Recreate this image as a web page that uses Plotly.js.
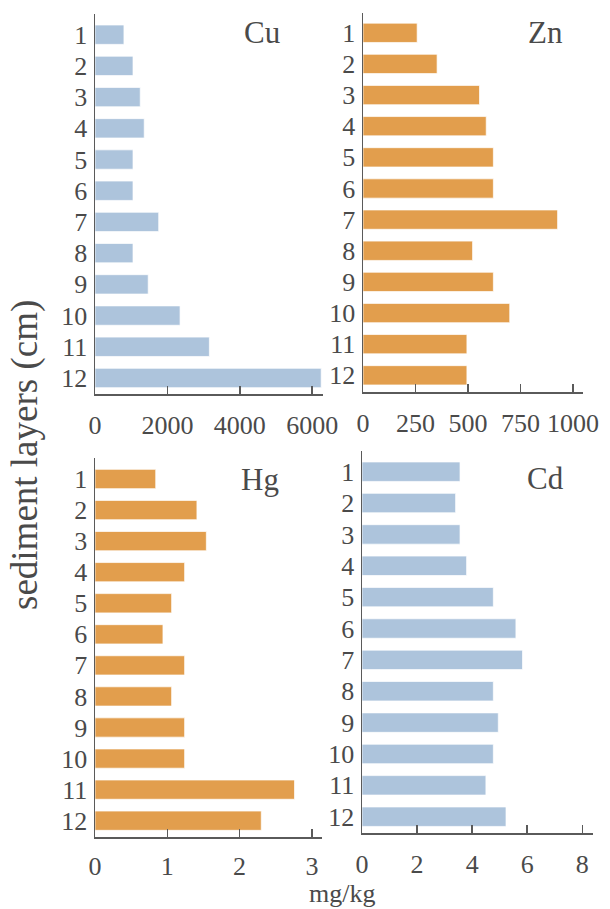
<!DOCTYPE html>
<html>
<head>
<meta charset="utf-8">
<script src="https://cdn.plot.ly/plotly-3.0.1.min.js"></script>
<style>html,body{margin:0;padding:0;background:#fff;}#chart{width:610px;height:909px;}</style>
</head>
<body>
<div id="chart"></div>
<script>
// ---- data ----
var layers = ['1','2','3','4','5','6','7','8','9','10','11','12'];
var cuValues = [800, 1050, 1250, 1360, 1050, 1050, 1760, 1050, 1470, 2350, 3160, 6250];
var znValues = [258, 353, 555, 587, 621, 621, 927, 522, 621, 699, 495, 495];
var hgValues = [0.84, 1.41, 1.54, 1.24, 1.06, 0.94, 1.24, 1.06, 1.24, 1.24, 2.76, 2.30];
var cdValues = [3.56, 3.40, 3.56, 3.80, 4.77, 5.59, 5.83, 4.77, 4.95, 4.77, 4.50, 5.23];
var panelNames = ['Cu', 'Zn', 'Hg', 'Cd'];
var cuTicks = [0, 2000, 4000, 6000];
var znTicks = [0, 250, 500, 750, 1000];
var hgTicks = [0, 1, 2, 3];
var cdTicks = [0, 2, 4, 6, 8];
var yTitle = 'sediment layers (cm)';
var xTitle = 'mg/kg';

var BLUE = '#adc4dc', ORANGE = '#e29e4d';
var FONT = "'Liberation Serif', 'Times New Roman', serif";
var TXT = '#4a4a4a', LINE = '#5a5a5a';
var W = 610, H = 909;

function px(x){ return x / W; }
function py(y){ return 1 - y / H; }

function bar(vals, color, xa, ya){
  return {
    type: 'bar', orientation: 'h', x: vals, y: layers,
    xaxis: xa, yaxis: ya, width: 0.62,
    marker: {color: color, line: {color: 'rgba(255,255,255,0.7)', width: 1}},
    hoverinfo: 'x+y', showlegend: false
  };
}

var data = [
  bar(cuValues, BLUE, 'x', 'y'),
  bar(znValues, ORANGE, 'x2', 'y2'),
  bar(hgValues, ORANGE, 'x3', 'y3'),
  bar(cdValues, BLUE, 'x4', 'y4')
];

function xaxis(dom, range, ticks, anchor, standoff){
  return {
    domain: dom, range: range, anchor: anchor,
    tickmode: 'array', tickvals: ticks, ticktext: ticks.map(String),
    ticks: 'inside', ticklen: 8, tickwidth: 1.5, tickcolor: LINE,
    showline: true, linecolor: LINE, linewidth: 1.5,
    showgrid: false, zeroline: false, ticklabelstandoff: standoff,
    tickfont: {family: FONT, size: 26, color: TXT}, fixedrange: true
  };
}
function yaxis(dom, range, anchor){
  return {
    domain: dom, range: range, anchor: anchor, type: 'category',
    categoryorder: 'array', categoryarray: layers,
    ticks: '', showline: true, linecolor: LINE, linewidth: 1.5,
    showgrid: false, zeroline: false, ticklabelstandoff: 1,
    tickfont: {family: FONT, size: 26, color: TXT}, fixedrange: true
  };
}

function label(text, x, y){
  return {text: text, xref: 'paper', yref: 'paper', x: px(x), y: py(y),
    xanchor: 'center', yanchor: 'middle', showarrow: false,
    font: {family: FONT, size: 31, color: TXT}};
}

var layout = {
  width: W, height: H,
  margin: {l: 0, r: 0, t: 0, b: 0},
  paper_bgcolor: '#ffffff', plot_bgcolor: 'rgba(0,0,0,0)',
  bargap: 0.38,
  xaxis:  xaxis([px(95),  px(323)], [0, 6300], cuTicks, 'y', 7),
  yaxis:  yaxis([py(394), py(14)],  [11.513, -0.663], 'x'),
  xaxis2: xaxis([px(363), px(583)], [0, 1048], znTicks, 'y2', 7),
  yaxis2: yaxis([py(392), py(13)],  [11.536, -0.636], 'x2'),
  xaxis3: xaxis([px(95),  px(322)], [0, 3.14], hgTicks, 'y3', 5),
  yaxis3: yaxis([py(837), py(458)], [11.525, -0.676], 'x3'),
  xaxis4: xaxis([px(362), px(593)], [0, 8.39], cdTicks, 'y4', 7),
  yaxis4: yaxis([py(833), py(451)], [11.52, -0.66], 'x4'),
  annotations: [
    label(panelNames[0], 262, 33),
    label(panelNames[1], 545, 33),
    label(panelNames[2], 260, 479),
    label(panelNames[3], 545, 478),
    {text: yTitle, xref: 'paper', yref: 'paper', x: px(25), y: py(455),
     xanchor: 'center', yanchor: 'middle', textangle: -90, showarrow: false,
     font: {family: FONT, size: 37, color: TXT}},
    {text: xTitle, xref: 'paper', yref: 'paper', x: px(342), y: py(909),
     xanchor: 'center', yanchor: 'bottom', showarrow: false, borderpad: 0,
     font: {family: FONT, size: 26, color: TXT}}
  ]
};

Plotly.newPlot('chart', data, layout, {displayModeBar: false, staticPlot: true});
</script>
</body>
</html>
